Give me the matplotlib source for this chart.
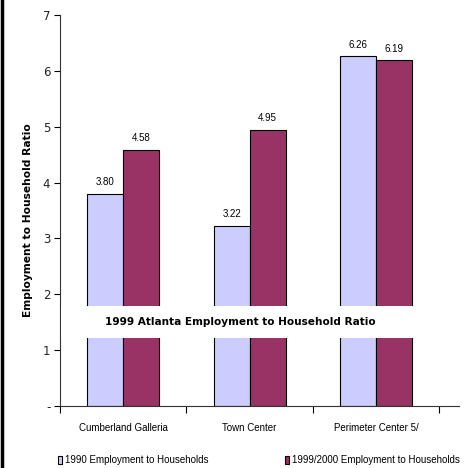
import matplotlib
matplotlib.use("Agg")
import matplotlib.pyplot as plt
from matplotlib.patches import Rectangle, Patch
from matplotlib.lines import Line2D
import numpy as np

categories = ["Cumberland Galleria", "Town Center", "Perimeter Center 5/"]
vals_1990 = [3.80, 3.22, 6.26]
vals_1999 = [4.58, 4.95, 6.19]
series_names = ["1990 Employment to Households", "1999/2000 Employment to Households"]
yticks = [0, 1, 2, 3, 4, 5, 6, 7]
ytick_labels = ["-", "1", "2", "3", "4", "5", "6", "7"]

light = "#CCCCFF"
dark = "#993366"
narrow = ["Liberation Sans", "DejaVu Sans"]

fig = plt.figure(figsize=(4.70, 4.68), dpi=100)
ax = fig.add_axes([60/470, 1-406/468, 399/470, 391/468])

x = np.arange(len(categories))
w = 0.285
ax.bar(x - w/2, vals_1990, w, color=light, edgecolor="black", linewidth=0.8, zorder=2)
ax.bar(x + w/2, vals_1999, w, color=dark, edgecolor="black", linewidth=0.8, zorder=2)

for xi, v in zip(x - w/2, vals_1990):
    ax.text(xi, v + 0.12, f"{v:.2f}", ha="center", va="bottom", fontsize=7.0, family=narrow)
for xi, v in zip(x + w/2, vals_1999):
    ax.text(xi, v + 0.12, f"{v:.2f}", ha="center", va="bottom", fontsize=7.0, family=narrow)

ax.set_xlim(-0.5, 2.656)
ax.set_ylim(0, 7)
ax.set_yticks(yticks)
ax.set_yticklabels(ytick_labels, fontsize=8.5, color="#222222")
ax.set_xticks([-0.5, 0.5, 1.5, 2.5])
ax.set_xticklabels([])
ax.set_xticks(x, minor=True)
ax.set_xticklabels(categories, minor=True, fontsize=7.0, family=narrow)
ax.tick_params(axis="x", which="minor", length=0, pad=12)
ax.tick_params(axis="x", which="major", length=5, direction="out", width=0.8)
ax.tick_params(axis="y", length=4, direction="out", width=0.8, pad=3)
for s in ["top", "right"]:
    ax.spines[s].set_visible(False)
for s in ["left", "bottom"]:
    ax.spines[s].set_linewidth(0.8)
    ax.spines[s].set_color("#333333")

ax.set_ylabel("Employment to Household Ratio", fontsize=7.7, fontweight="bold")
ax.yaxis.set_label_coords(-0.068, 0.475)

ax.add_patch(Rectangle((-0.49, 1.22), 3.1, 0.57, facecolor="white", edgecolor="none", zorder=3))
ax.text(0.93, 1.505, "1999 Atlanta Employment to Household Ratio", ha="center", va="center",
        fontsize=7.6, fontweight="bold", zorder=4)

handles = [Patch(facecolor=light, edgecolor="black", linewidth=0.8),
           Patch(facecolor=dark, edgecolor="black", linewidth=0.8)]
legend_x = [58/470, 285/470]
for h, name, lx in zip(handles, series_names, legend_x):
    fig.legend([h], [name], loc="center left", bbox_to_anchor=(lx, 1-460/468),
               frameon=False, handlelength=0.45, handleheight=0.9, handletextpad=0.3,
               prop={"family": narrow, "size": 7.0}, borderaxespad=0, borderpad=0)

fig.add_artist(Line2D([1.5/470, 1.5/470], [0, 1], color="black", linewidth=2.5, transform=fig.transFigure))

fig.savefig("out.png", dpi=100)
